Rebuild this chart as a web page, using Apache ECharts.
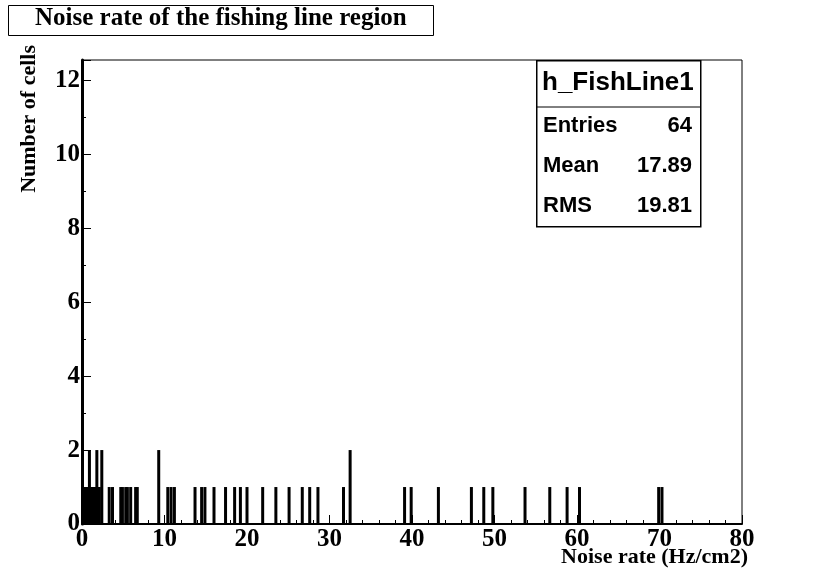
<!DOCTYPE html>
<html>
<head>
<meta charset="utf-8">
<script src="https://cdn.jsdelivr.net/npm/echarts@6/dist/echarts.min.js"></script>
<style>
  html, body { margin: 0; padding: 0; background: #fff; }
  #chart { width: 830px; height: 582px; }
</style>
</head>
<body>
<div id="chart"></div>
<script>
// noise rate per cell (Hz/cm2), binned at 0.1, and number of cells in each bin
const noiseRates = [
  0.1, 0.2, 0.3, 0.4, 0.5, 0.6, 0.9, 1.0, 1.1, 1.2, 1.3, 1.4, 1.5, 1.6, 1.8, 2.0, 2.1, 2.4,
  3.3, 3.7, 4.7, 4.9, 5.3, 5.5, 5.9, 6.5, 6.7,
  9.3, 10.4, 10.8, 11.2, 13.7, 14.5, 14.9, 16.0, 17.4, 18.5, 19.2, 20.0, 21.9, 23.5, 25.1,
  26.7, 27.6, 28.6, 31.7, 32.5, 39.1, 39.9, 43.2, 47.2, 48.7, 49.8, 53.7, 56.7, 58.8, 60.3,
  69.9, 70.3
]
const cellCounts = [
  1, 1, 1, 1, 1, 1, 2, 1, 1, 1, 1, 1, 1, 1, 2, 1, 1, 2,
  1, 1, 1, 1, 1, 1, 1, 1, 1,
  2, 1, 1, 1, 1, 1, 1, 1, 1, 1, 1, 1, 1, 1, 1,
  1, 1, 1, 1, 2, 1, 1, 1, 1, 1, 1, 1, 1, 1, 1,
  1, 1
]
const xTicks = [0, 10, 20, 30, 40, 50, 60, 70, 80]
const yTicks = [0, 2, 4, 6, 8, 10, 12]
const statsLabels = ['Entries', 'Mean', 'RMS']
const statsValues = ['64', '17.89', '19.81']

const serif = '"Liberation Serif", "Times New Roman", serif'
const sans = '"Liberation Sans", Arial, sans-serif'

const chart = echarts.init(document.getElementById('chart'))

const statsText = statsLabels.map((label, i) => [
  { type: 'text', left: 543, top: 115 + i * 40, style: { text: label, font: `bold 22px ${sans}`, fill: '#000' } },
  { type: 'text', right: 138, top: 115 + i * 40, style: { text: statsValues[i], font: `bold 22px ${sans}`, fill: '#000', align: 'right' } }
]).flat()

chart.setOption({
  animation: false,
  backgroundColor: '#fff',
  grid: {
    left: 82, right: 88, top: 60, bottom: 58,
    outerBoundsMode: 'none',
    show: true, borderColor: '#000', borderWidth: 1, backgroundColor: 'transparent'
  },
  xAxis: {
    type: 'value',
    min: xTicks[0],
    max: xTicks[xTicks.length - 1],
    interval: 10,
    axisLine: { show: true, onZero: false, lineStyle: { color: '#000', width: 2 } },
    axisTick: { show: true, inside: true, length: 9, lineStyle: { color: '#000' } },
    minorTick: { show: true, splitNumber: 5, length: 4, lineStyle: { color: '#000' } },
    splitLine: { show: false },
    axisLabel: { fontFamily: serif, fontWeight: 'bold', fontSize: 25, color: '#000', margin: 3 }
  },
  yAxis: {
    type: 'value',
    min: yTicks[0],
    max: 12.55,
    interval: 2,
    name: 'Number of cells',
    nameLocation: 'end',
    nameRotate: 90,
    nameGap: 15,
    nameTextStyle: { fontFamily: serif, fontWeight: 'bold', fontSize: 22, color: '#000', align: 'right', verticalAlign: 'bottom', padding: [0, 0, 42, 0] },
    axisLine: { show: true, lineStyle: { color: '#000', width: 3 } },
    axisTick: { show: true, inside: true, length: 9, lineStyle: { color: '#000' } },
    minorTick: { show: true, splitNumber: 2, length: 4, lineStyle: { color: '#000' } },
    splitLine: { show: false },
    axisLabel: { fontFamily: serif, fontWeight: 'bold', fontSize: 25, color: '#000', margin: 2, showMaxLabel: false }
  },
  series: [{
    type: 'bar',
    barWidth: 3,
    itemStyle: { color: '#000' },
    data: noiseRates.map((x, i) => [x, cellCounts[i]])
  }],
  graphic: [
    { type: 'rect', left: 8, top: 5, shape: { width: 425, height: 30 }, style: { fill: '#fff', stroke: '#000', lineWidth: 1 } },
    { type: 'text', left: 35, top: 6, style: { text: 'Noise rate of the fishing line region', font: `bold 25px ${serif}`, fill: '#000' } },
    { type: 'text', right: 82, top: 546, style: { text: 'Noise rate (Hz/cm2)', font: `bold 22px ${serif}`, fill: '#000' } },
    { type: 'rect', left: 536, top: 60, shape: { width: 164, height: 166 }, style: { fill: '#fff', stroke: '#000', lineWidth: 1.5 } },
    { type: 'line', shape: { x1: 536, y1: 107, x2: 700, y2: 107 }, style: { stroke: '#000', lineWidth: 1 } },
    { type: 'text', left: 542, top: 70, style: { text: 'h_FishLine1', font: `bold 26px ${sans}`, fill: '#000' } },
    ...statsText
  ]
})
</script>
</body>
</html>
